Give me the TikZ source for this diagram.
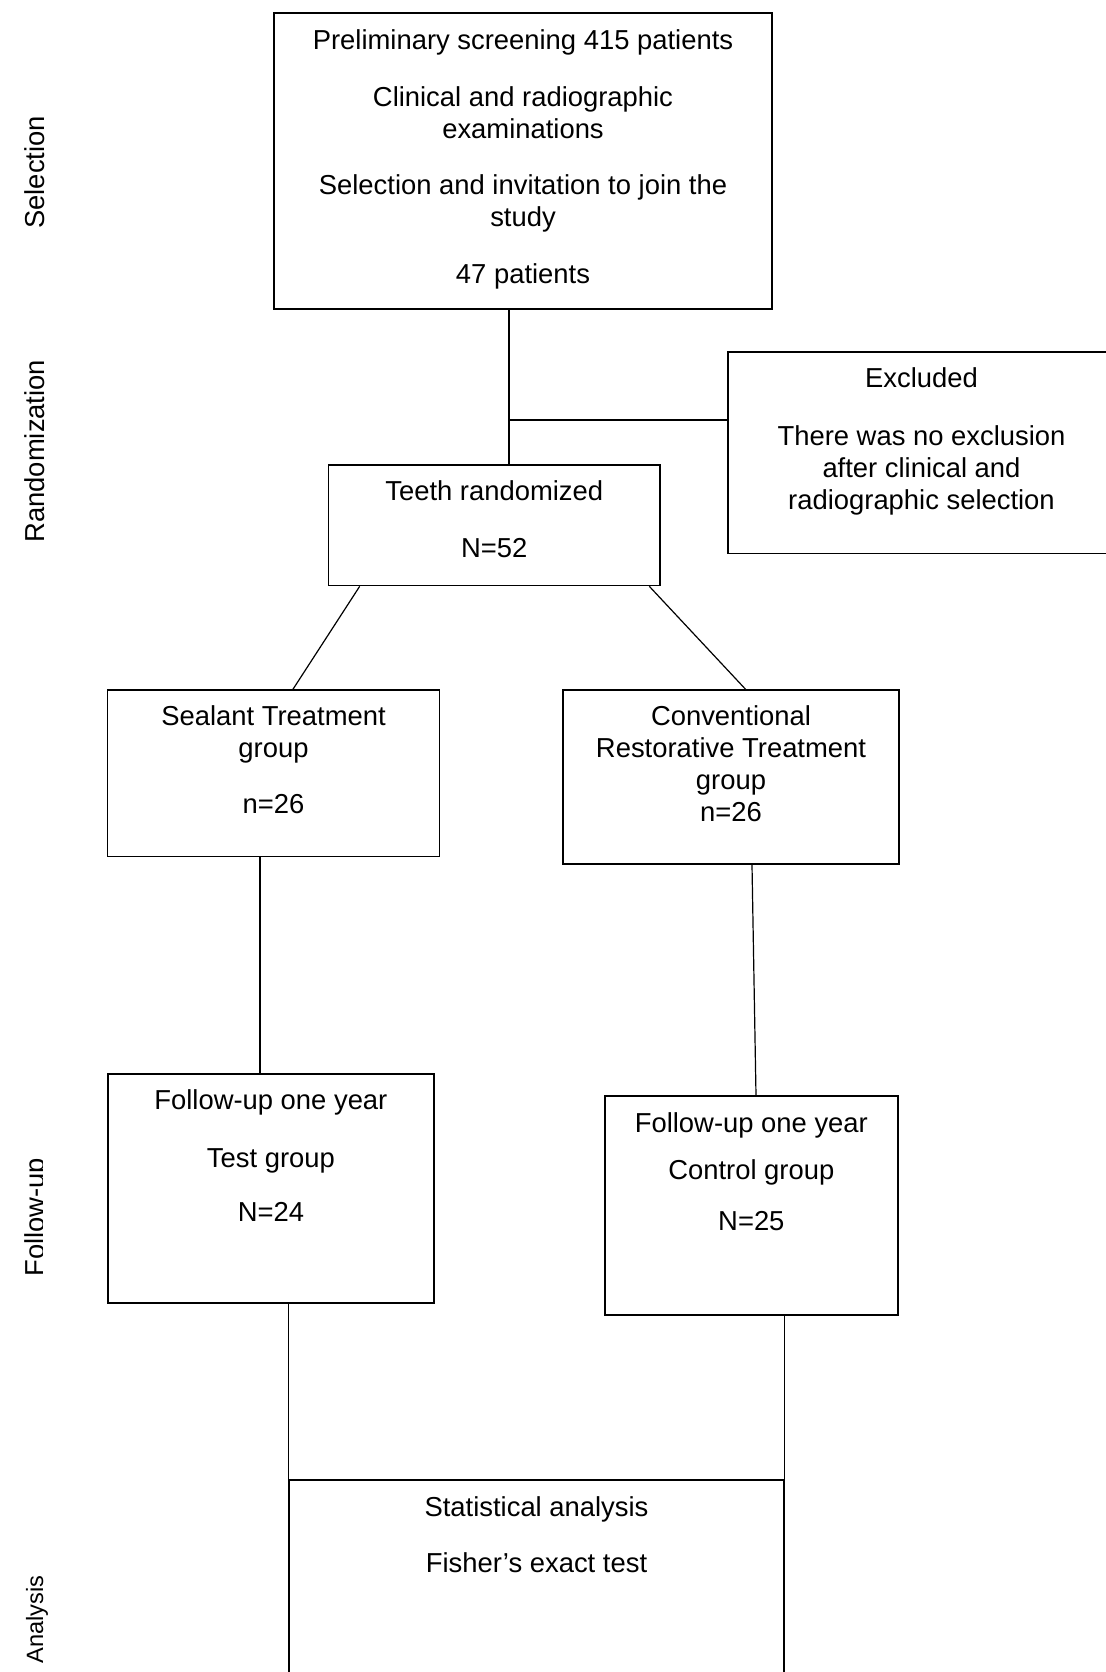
\documentclass[tikz,border=0pt]{standalone}
\usepackage{fontspec}
\setmainfont{Liberation Sans}
\usetikzlibrary{positioning, calc}

\begin{document}
\begin{tikzpicture}[
  x=0.5pt, y=-0.5pt,
  stagebox/.style={draw=black, line width=0.8pt, inner sep=0pt},
  boxtext/.style={anchor=north, inner sep=0pt, align=center,
    font=\fontsize{13.7}{16}\selectfont},
  sidelabel/.style={rotate=90, anchor=base west, inner sep=0pt,
    font=\fontsize{13.7}{16}\selectfont},
  link/.style={draw=black, line width=0.6pt}
]
  \useasboundingbox (0,0) rectangle (1106,1672);
  \clip (0,0) rectangle (1106,1672);

  % boxes
  \node[stagebox, minimum width=249pt, minimum height=148pt] (screen) at (523,161) {};
  \node[stagebox, minimum width=193.5pt, minimum height=100.75pt] (excl) at (921.5,452.75) {};
  \node[stagebox, minimum width=165.75pt, minimum height=60.25pt] (teeth) at (494.25,525.25) {};
  \node[stagebox, minimum width=165.85pt, minimum height=83.2pt] (sealant) at (273.5,773.2) {};
  \node[stagebox, minimum width=168pt, minimum height=87pt] (conv) at (731,777) {};
  \node[stagebox, minimum width=163.15pt, minimum height=114.5pt] (test) at (270.9,1188.5) {};
  \node[stagebox, minimum width=146.65pt, minimum height=109.5pt] (control) at (751.35,1205.5) {};
  \node[stagebox, minimum width=247.5pt, minimum height=130pt] (analysis) at (536.5,1610) {};

  % box texts
  \node[boxtext] (screentxt) at (523,29.5) {
    Preliminary screening 415 patients\\[12.3pt]
    Clinical and radiographic\\ examinations\\[12.3pt]
    Selection and invitation to join the\\ study\\[12.3pt]
    47 patients
  };
  \node[boxtext] (excltxt) at (921.5,367.6) {
    Excluded\\[12.7pt]
    There was no exclusion\\ after clinical and\\ radiographic selection
  };
  \node[boxtext] (teethtxt) at (494.25,480.6) {Teeth randomized\\[12.5pt] N=52};
  \node[boxtext] (sealanttxt) at (273.5,705.7) {Sealant Treatment\\ group\\[12pt] n=26};
  \node[boxtext] (convtxt) at (731,705.7) {Conventional\\ Restorative Treatment\\ group\\ n=26};
  \node[boxtext] (testtxt) at (270.9,1089.6) {Follow-up one year\\[12.7pt] Test group\\[11.3pt] N=24};
  \node[boxtext] (controltxt) at (751.35,1112) {Follow-up one year\\[7.5pt] Control group\\[9.5pt] N=25};
  \node[boxtext] (analysistxt) at (536.5,1496) {Statistical analysis\\[12.3pt] Fisher’s exact test};

  % connectors
  \coordinate (split) at (509,420);
  \draw[link] (split |- screen.south) -- (split |- teeth.north);
  \draw[link] (split) -- (split -| excl.west);
  \draw[link] ($(teeth.south west)+(32,0)$) -- ($(sealant.north)+(19.5,0)$);
  \draw[link] ($(teeth.south east)+(-11.5,0)$) -- ($(conv.north)+(14.5,0)$);
  \draw[link] ($(sealant.south)+(-13.5,0)$) -- ($(test.north)+(-10.9,0)$);
  \draw[link] ($(conv.south)+(21,0)$) -- ($(control.north)+(4.65,0)$);
  \draw[link] (analysis.north west |- test.south) -- (analysis.north west);
  \draw[link] (analysis.north east |- control.south) -- ($(analysis.north east)+(0,67)$);

  % stage labels
  \begin{scope}
    \clip (0,0) rectangle (80,227);
    \node[sidelabel] (selection) at (45,229) {Selection};
  \end{scope}
  \begin{scope}
    \clip (0,300) rectangle (80,542);
    \node[sidelabel] (random) at (45,543) {Randomization};
  \end{scope}
  \begin{scope}
    \clip (0,1100) rectangle (42.5,1300);
    \node[sidelabel] (followup) at (45,1277) {Follow-up};
  \end{scope}
  \node[sidelabel, font=\fontsize{11.8}{14}\selectfont] (analysislbl) at (43,1664) {Analysis};
\end{tikzpicture}
\end{document}
